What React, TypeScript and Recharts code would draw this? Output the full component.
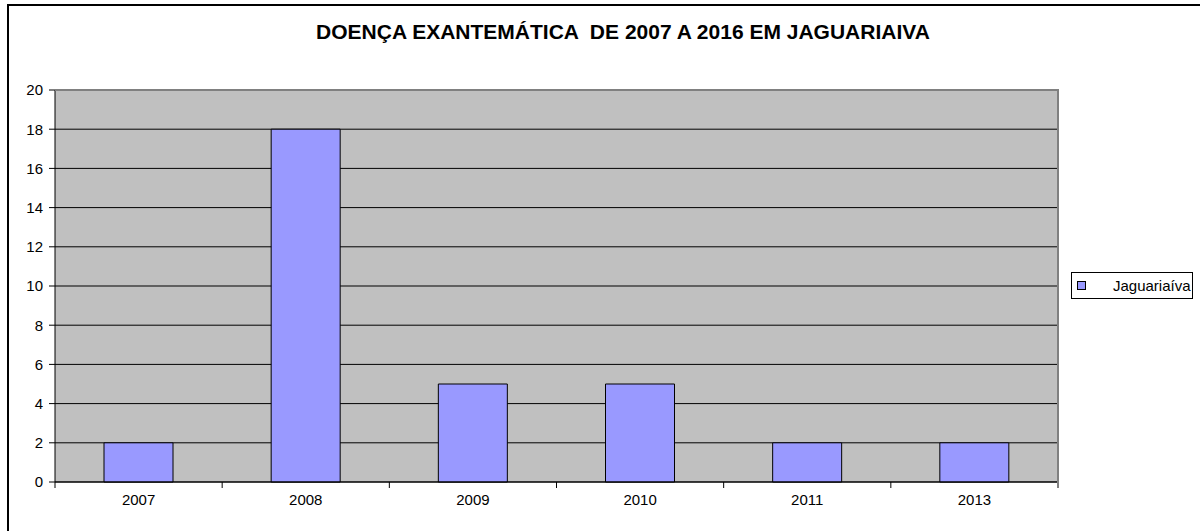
import React from 'react';
import { BarChart, Bar, XAxis, YAxis, CartesianGrid } from 'recharts';

const years = ['2007', '2008', '2009', '2010', '2011', '2013'];
const cases = [2, 18, 5, 5, 2, 2];
const yTicks = [0, 2, 4, 6, 8, 10, 12, 14, 16, 18, 20];

const data = years.map((year, i) => ({ year, Jaguariaiva: cases[i] }));

const FONT = 'Arial, "Liberation Sans", sans-serif';

function YearTick(props: any) {
  const { x, y, payload, index } = props;
  const half = payload.offset || 0;
  return (
    <g>
      <line x1={x - half} y1={y} x2={x - half} y2={y + 6} stroke="#000" />
      {index === years.length - 1 && (
        <line x1={x + half} y1={y} x2={x + half} y2={y + 6} stroke="#000" />
      )}
      <text x={x} y={y + 23} textAnchor="middle" fontSize={15} fill="#000" fontFamily={FONT}>
        {payload.value}
      </text>
    </g>
  );
}

function LegendBox() {
  return (
    <div
      style={{
        position: 'absolute',
        left: 1071,
        top: 272,
        width: 120,
        height: 25,
        border: '1px solid #000',
        background: '#fff',
        display: 'flex',
        alignItems: 'center',
        fontFamily: FONT,
        fontSize: 15,
      }}
    >
      <span
        style={{
          width: 7,
          height: 7,
          border: '1px solid #000',
          background: '#9999FF',
          marginLeft: 5,
          marginRight: 27,
        }}
      />
      <span>Jaguariaíva</span>
    </div>
  );
}

export default function App() {
  return (
    <div
      style={{
        position: 'absolute',
        left: 0,
        top: 0,
        width: 1200,
        height: 531,
        background: '#fff',
        overflow: 'hidden',
      }}
    >
      <div
        style={{
          position: 'absolute',
          left: 7,
          top: 4,
          width: 1200,
          height: 540,
          borderLeft: '2px solid #000',
          borderTop: '2px solid #000',
        }}
      />
      <div
        style={{
          position: 'absolute',
          left: 0,
          width: 1246,
          top: 20,
          textAlign: 'center',
          fontFamily: FONT,
          fontWeight: 'bold',
          fontSize: 21,
          whiteSpace: 'pre',
        }}
      >
        DOENÇA EXANTEMÁTICA  DE 2007 A 2016 EM JAGUARIAIVA
      </div>
      <div style={{ position: 'absolute', left: 0, top: 0 }}>
        <BarChart
          width={1200}
          height={531}
          data={data}
          margin={{ top: 90, right: 142, left: 0, bottom: 19 }}
          barSize={69}
        >
          <CartesianGrid vertical={false} stroke="#000" fill="#C0C0C0" />
          <XAxis
            dataKey="year"
            height={30}
            stroke="#000"
            tickLine={false}
            tickSize={0}
            tickMargin={0}
            tick={<YearTick />}
            interval={0}
          />
          <YAxis
            width={55}
            domain={[0, 20]}
            ticks={yTicks}
            stroke="#000"
            tickSize={6}
            tickMargin={6}
            interval={0}
            tick={{ fill: '#000', fontSize: 15, fontFamily: FONT }}
          />
          <Bar
            dataKey="Jaguariaiva"
            fill="#9999FF"
            stroke="#000"
            strokeWidth={1}
            isAnimationActive={false}
          />
        </BarChart>
      </div>
      <LegendBox />
      <div
        style={{
          position: 'absolute',
          left: 55,
          top: 89,
          width: 1002,
          height: 393,
          borderTop: '2px solid #808080',
          borderRight: '2px solid #808080',
          pointerEvents: 'none',
        }}
      />
    </div>
  );
}
